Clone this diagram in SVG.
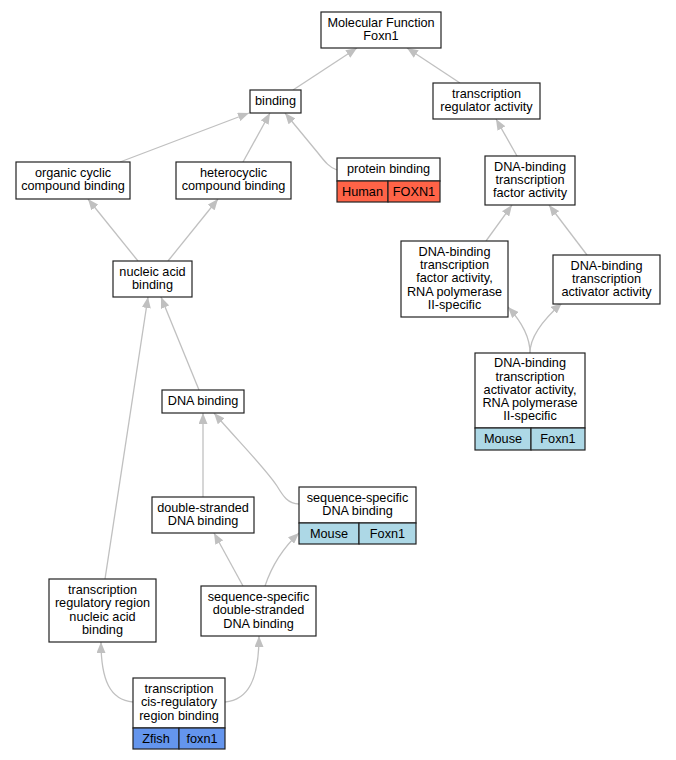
<svg xmlns="http://www.w3.org/2000/svg" width="676" height="760" viewBox="0 0 676 760">
<style>
.n{fill:#fff;stroke:#222;stroke-width:1.2}
.t{font-family:"Liberation Sans",Arial,sans-serif;font-size:12.7px;fill:#000;text-anchor:middle}
.e{fill:none;stroke:#c0c0c0;stroke-width:1.3;marker-end:url(#a)}
.hu{fill:#ff6347;stroke:#222;stroke-width:1.2}
.mo{fill:#add8e6;stroke:#222;stroke-width:1.2}
.zf{fill:#6495ed;stroke:#222;stroke-width:1.2}
</style>
<defs>
<marker id="a" viewBox="0 0 11 9" refX="11" refY="4.5" markerWidth="11" markerHeight="9" markerUnits="userSpaceOnUse" orient="auto">
<path d="M0,0 L11,4.5 L0,9 z" fill="#c0c0c0"/>
</marker>
</defs>
<rect width="676" height="760" fill="#fff"/>
<g id="edges">
<path class="e" d="M293,90 L357,48"/>
<path class="e" d="M460,83 L407,48"/>
<path class="e" d="M120,162 L249,113"/>
<path class="e" d="M243,162 L270,113"/>
<path class="e" d="M337,170 C330,168 325,162 318,153 L285,113"/>
<path class="e" d="M138,261 L88,199"/>
<path class="e" d="M168,261 L218,199"/>
<path class="e" d="M517,156 L496,119"/>
<path class="e" d="M486,241 L512,205"/>
<path class="e" d="M587,255 L549,205"/>
<path class="e" d="M530,353 C530,335 520,320 508,307"/>
<path class="e" d="M530,353 C530,335 545,318 562,303"/>
<path class="e" d="M199,390 L161,297"/>
<path class="e" d="M105,579 L148,297"/>
<path class="e" d="M203,497 L203,413"/>
<path class="e" d="M299,504 C288,504 283,496 277,486 C265,468 240,443 214,413"/>
<path class="e" d="M243,586 L214,533"/>
<path class="e" d="M265,586 C272,565 283,548 299,533"/>
<path class="e" d="M133,702 C110,700 101,680 101,642"/>
<path class="e" d="M225,702 C248,700 259,680 259,636"/>
</g>
<g id="mf">
<rect class="n" x="321" y="12" width="120" height="36"/>
<text class="t" x="381" y="26.6">Molecular Function</text>
<text class="t" x="381" y="39.9">Foxn1</text>
</g>
<g id="binding">
<rect class="n" x="250" y="90" width="51" height="23"/>
<text class="t" x="275.5" y="105">binding</text>
</g>
<g id="trra">
<rect class="n" x="433" y="83" width="107" height="36"/>
<text class="t" x="486.5" y="97.6">transcription</text>
<text class="t" x="486.5" y="110.9">regulator activity</text>
</g>
<g id="occb">
<rect class="n" x="16" y="162" width="114" height="37"/>
<text class="t" x="73" y="177.1">organic cyclic</text>
<text class="t" x="73" y="190.4">compound binding</text>
</g>
<g id="hcb">
<rect class="n" x="176" y="162" width="115" height="37"/>
<text class="t" x="233.5" y="177.1">heterocyclic</text>
<text class="t" x="233.5" y="190.4">compound binding</text>
</g>
<g id="pb">
<rect class="n" x="337" y="158" width="103" height="23"/>
<rect class="hu" x="337" y="181" width="51" height="21"/>
<rect class="hu" x="388" y="181" width="52" height="21"/>
<text class="t" x="388.5" y="173.3">protein binding</text>
<text class="t" x="362.5" y="195.5">Human</text>
<text class="t" x="414" y="195.5">FOXN1</text>
</g>
<g id="nab">
<rect class="n" x="113" y="261" width="79" height="36"/>
<text class="t" x="152.5" y="275.6">nucleic acid</text>
<text class="t" x="152.5" y="288.9">binding</text>
</g>
<g id="dbtfa">
<rect class="n" x="485" y="156" width="90" height="49"/>
<text class="t" x="530" y="170.5">DNA-binding</text>
<text class="t" x="530" y="183.8">transcription</text>
<text class="t" x="530" y="197.1">factor activity</text>
</g>
<g id="dbtfa2">
<rect class="n" x="401" y="241" width="107" height="76"/>
<text class="t" x="454.5" y="255.7">DNA-binding</text>
<text class="t" x="454.5" y="269">transcription</text>
<text class="t" x="454.5" y="282.3">factor activity,</text>
<text class="t" x="454.5" y="295.6">RNA polymerase</text>
<text class="t" x="454.5" y="308.9">II-specific</text>
</g>
<g id="dbtaa">
<rect class="n" x="553" y="255" width="107" height="49"/>
<text class="t" x="606.5" y="269.5">DNA-binding</text>
<text class="t" x="606.5" y="282.8">transcription</text>
<text class="t" x="606.5" y="296.1">activator activity</text>
</g>
<g id="dbtaa2">
<rect class="n" x="475" y="353" width="110" height="75"/>
<rect class="mo" x="475" y="428" width="56" height="22"/>
<rect class="mo" x="531" y="428" width="54" height="22"/>
<text class="t" x="530" y="367.2">DNA-binding</text>
<text class="t" x="530" y="380.5">transcription</text>
<text class="t" x="530" y="393.8">activator activity,</text>
<text class="t" x="530" y="407.1">RNA polymerase</text>
<text class="t" x="530" y="420.4">II-specific</text>
<text class="t" x="503" y="443.3">Mouse</text>
<text class="t" x="558" y="443.3">Foxn1</text>
</g>
<g id="dnab">
<rect class="n" x="162" y="390" width="82" height="23"/>
<text class="t" x="203" y="405">DNA binding</text>
</g>
<g id="dsdb">
<rect class="n" x="152" y="497" width="102" height="36"/>
<text class="t" x="203" y="511.6">double-stranded</text>
<text class="t" x="203" y="524.9">DNA binding</text>
</g>
<g id="ssdb">
<rect class="n" x="299" y="487" width="117" height="36"/>
<rect class="mo" x="299" y="523" width="60" height="21"/>
<rect class="mo" x="359" y="523" width="57" height="21"/>
<text class="t" x="357.5" y="501.6">sequence-specific</text>
<text class="t" x="357.5" y="514.9">DNA binding</text>
<text class="t" x="329" y="537.5">Mouse</text>
<text class="t" x="387.5" y="537.5">Foxn1</text>
</g>
<g id="ssdsdb">
<rect class="n" x="201" y="586" width="115" height="50"/>
<text class="t" x="258.5" y="601">sequence-specific</text>
<text class="t" x="258.5" y="614.3">double-stranded</text>
<text class="t" x="258.5" y="627.6">DNA binding</text>
</g>
<g id="trrnab">
<rect class="n" x="49" y="579" width="107" height="63"/>
<text class="t" x="102.5" y="593.9">transcription</text>
<text class="t" x="102.5" y="607.2">regulatory region</text>
<text class="t" x="102.5" y="620.5">nucleic acid</text>
<text class="t" x="102.5" y="633.8">binding</text>
</g>
<g id="tcrb">
<rect class="n" x="133" y="678" width="92" height="50"/>
<rect class="zf" x="133" y="728" width="46" height="21"/>
<rect class="zf" x="179" y="728" width="46" height="21"/>
<text class="t" x="179" y="693">transcription</text>
<text class="t" x="179" y="706.3">cis-regulatory</text>
<text class="t" x="179" y="719.6">region binding</text>
<text class="t" x="156" y="742.5">Zfish</text>
<text class="t" x="202" y="742.5">foxn1</text>
</g>
</svg>
